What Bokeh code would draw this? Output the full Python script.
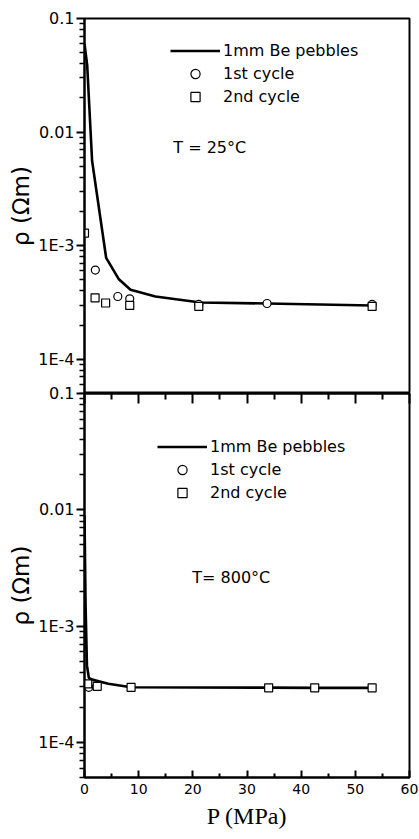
from bokeh.plotting import figure
from bokeh.models import (FixedTicker, LinearAxis, Legend, LegendItem, Label, Range1d,
                          CustomLabelingPolicy)
from bokeh.layouts import column
from bokeh.embed import file_html
from bokeh.resources import INLINE

# ---------------- data ----------------
P_TICKS = [0, 10, 20, 30, 40, 50, 60]
P_MINOR = [5, 15, 25, 35, 45, 55]
RHO_TICKS = [1e-4, 1e-3, 1e-2, 1e-1]
RHO_TICK_LABELS = ["1E-4", "1E-3", "0.01", "0.1"]
RHO_MINOR = [5e-5, 6e-5, 7e-5, 8e-5, 9e-5,
             2e-4, 3e-4, 4e-4, 5e-4, 6e-4, 7e-4, 8e-4, 9e-4,
             2e-3, 3e-3, 4e-3, 5e-3, 6e-3, 7e-3, 8e-3, 9e-3,
             2e-2, 3e-2, 4e-2, 5e-2, 6e-2, 7e-2, 8e-2, 9e-2]

# T = 25 C panel
top_line_P = [0, 0.5, 1.4, 4.0, 6.3, 8.5, 13.1, 21.4, 33.7, 53.1]
top_line_rho = [0.060, 0.0386, 5.6e-3, 7.8e-4, 5.1e-4, 4.1e-4, 3.57e-4, 3.16e-4, 3.1e-4, 2.98e-4]
top_c1_P = [2.0, 6.15, 8.35, 21.1, 33.7, 53.1]
top_c1_rho = [6.1e-4, 3.57e-4, 3.41e-4, 3.04e-4, 3.1e-4, 3.04e-4]
top_c2_P = [0.0, 1.95, 3.9, 8.35, 21.1, 53.1]
top_c2_rho = [1.29e-3, 3.48e-4, 3.13e-4, 2.98e-4, 2.92e-4, 2.92e-4]

# T = 800 C panel
bot_line_P = [0, 0.2, 0.45, 0.8, 1.4, 4.4, 8.6, 34.0, 42.5, 53.1]
bot_line_rho = [9.0e-3, 1.5e-3, 4.6e-4, 3.6e-4, 3.47e-4, 3.2e-4, 2.98e-4, 2.96e-4, 2.95e-4, 2.95e-4]
bot_c1_P = [0.8]
bot_c1_rho = [2.98e-4]
bot_c2_P = [0.6, 2.35, 8.6, 34.0, 42.5, 53.1]
bot_c2_rho = [3.19e-4, 3.04e-4, 2.98e-4, 2.95e-4, 2.95e-4, 2.95e-4]

SERIES_NAMES = ["1mm Be pebbles", "1st cycle", "2nd cycle"]
Y_TITLE = "ρ (Ωm)"
X_TITLE = "P (MPa)"

SANS = "DejaVu Sans"
SERIF = "Liberation Serif"


def make_panel(line_P, line_rho, c1_P, c1_rho, c2_P, c2_rho, frame_h,
               border_top, border_bottom, with_x, legend_loc, t_text, t_xy):
    p = figure(x_range=Range1d(0, 60), y_range=Range1d(5e-5, 0.1),
               y_axis_type="log", frame_width=325, frame_height=frame_h,
               min_border_left=84, min_border_right=10,
               min_border_top=border_top, min_border_bottom=border_bottom,
               x_axis_location="below" if with_x else None,
               output_backend="svg", toolbar_location=None)
    p.grid.visible = False
    p.outline_line_color = "black"
    p.outline_line_width = 2
    p.background_fill_color = "white"

    ay = p.yaxis[0]
    ay.ticker = FixedTicker(ticks=RHO_TICKS, minor_ticks=RHO_MINOR)
    ay.major_label_overrides = dict(zip(RHO_TICKS, RHO_TICK_LABELS))
    ay.major_tick_out = 8
    ay.major_tick_in = 0
    ay.minor_tick_out = 5
    ay.minor_tick_in = 0
    ay.axis_line_width = 2
    ay.major_tick_line_width = 2
    ay.minor_tick_line_width = 1.5
    ay.major_label_standoff = 2
    ay.major_label_text_font = SANS
    ay.major_label_text_font_size = "16px"
    ay.major_label_text_color = "black"
    ay.axis_label = Y_TITLE
    ay.axis_label_text_font = SANS
    ay.axis_label_text_font_size = "23px"
    ay.axis_label_text_font_style = "normal"
    ay.axis_label_text_color = "black"
    ay.axis_label_standoff = 1

    if with_x:
        ax = p.xaxis[0]
        ax.ticker = FixedTicker(ticks=P_TICKS, minor_ticks=P_MINOR)
        ax.major_tick_in = 7
        ax.major_tick_out = 0
        ax.minor_tick_in = 4
        ax.minor_tick_out = 0
        ax.axis_line_width = 2
        ax.major_tick_line_width = 2
        ax.minor_tick_line_width = 2
        ax.major_label_standoff = 6
        ax.major_label_text_font = SANS
        ax.major_label_text_font_size = "14px"
        ax.major_label_text_color = "black"
        ax.axis_label = X_TITLE
        ax.axis_label_text_font = SERIF
        ax.axis_label_text_font_size = "24px"
        ax.axis_label_text_font_style = "normal"
        ax.axis_label_text_color = "black"
        ax.axis_label_standoff = 6

        top = LinearAxis(ticker=FixedTicker(ticks=P_TICKS, minor_ticks=P_MINOR),
                         major_tick_in=10, major_tick_out=0,
                         minor_tick_in=6, minor_tick_out=0,
                         major_tick_line_width=2, minor_tick_line_width=2,
                         axis_line_width=2, major_label_standoff=0,
                         major_label_policy=CustomLabelingPolicy(code="""
                             for (const i of indices) { indices.unset(i) }
                             return indices
                         """))
        p.add_layout(top, "above")

    lr = p.line(line_P, line_rho, line_color="black", line_width=2.6)
    cr = p.scatter(c1_P, c1_rho, marker="circle", size=8, fill_color="white",
                   line_color="black", line_width=1.2)
    sr = p.scatter(c2_P, c2_rho, marker="square", size=8, fill_color="white",
                   line_color="black", line_width=1.2)

    leg = Legend(items=[LegendItem(label=SERIES_NAMES[0], renderers=[lr]),
                        LegendItem(label=SERIES_NAMES[1], renderers=[cr]),
                        LegendItem(label=SERIES_NAMES[2], renderers=[sr])],
                 location=legend_loc, glyph_width=50, glyph_height=23,
                 label_height=23, spacing=0, padding=0, margin=0,
                 label_standoff=3, border_line_alpha=0,
                 background_fill_alpha=0, label_text_font=SANS,
                 label_text_font_size="16px", label_text_color="black")
    p.add_layout(leg)

    p.add_layout(Label(x=t_xy[0], y=t_xy[1], text=t_text, text_font=SANS,
                       text_font_size="16px", text_baseline="middle",
                       text_color="black"))
    return p


p1 = make_panel(top_line_P, top_line_rho, top_c1_P, top_c1_rho, top_c2_P, top_c2_rho,
                frame_h=375, border_top=18, border_bottom=0, with_x=False,
                legend_loc=(86, 285), t_text="T = 25°C", t_xy=(16.4, 7.3e-3))
p1.border_fill_color = "white"

p2 = make_panel(bot_line_P, bot_line_rho, bot_c1_P, bot_c1_rho, bot_c2_P, bot_c2_rho,
                frame_h=384, border_top=12, border_bottom=62, with_x=True,
                legend_loc=(73, 273), t_text="T= 800°C", t_xy=(19.9, 2.62e-3))
p2.border_fill_color = None
p2.margin = (-12, 0, 0, 0)

layout = column(p1, p2, spacing=0)
open("out.html", "w").write(file_html(layout, INLINE))
